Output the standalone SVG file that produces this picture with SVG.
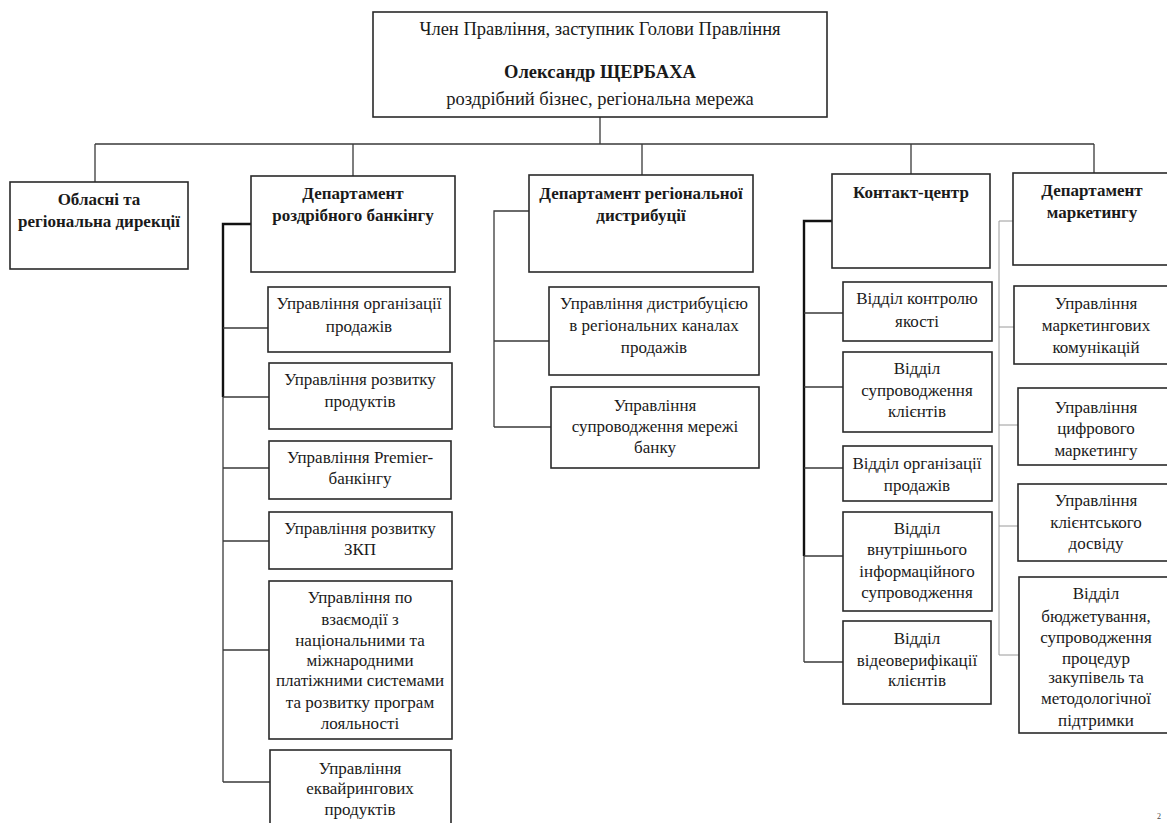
<svg xmlns="http://www.w3.org/2000/svg" width="1167" height="823" viewBox="0 0 1167 823">
  <style>
    .box { fill: #ffffff; stroke: #2a2a2a; stroke-width: 1.6; }
    .t { font-family: "Liberation Serif", "Times New Roman", serif; font-size: 17px; fill: #1a1a1a; text-anchor: middle; }
    .h { font-size: 18.5px; }
    .b { font-weight: bold; }
    .pg { font-size: 8px; fill: #444444; }
    .ln { fill: none; stroke: #3a3a3a; stroke-width: 1.3; }
    .thick { fill: none; stroke: #111111; stroke-width: 2.4; }
    .light { fill: none; stroke: #9a9a9a; stroke-width: 1; }
  </style>
  <rect width="1167" height="823" fill="#ffffff"/>

  <!-- connectors -->
  <g id="connectors">
    <path class="ln" d="M600 117 V144 M95 144 H1094 M95 144 V182 M353 144 V176 M642 144 V175 M911 144 V174 M1094 144 V173"/>
    <!-- retail banking branch -->
    <path class="thick" d="M251 224 H223 V397"/>
    <path class="ln" d="M223 397 V782 M223 328 H268 M223 397 H269 M223 468 H269 M223 541 H269 M223 650 H269 M223 782 H270"/>
    <!-- regional distribution branch -->
    <path class="ln" d="M529 211 H494 V427 M494 341 H549 M494 427 H551"/>
    <!-- contact centre branch -->
    <path class="thick" d="M832 221 H804 V556"/>
    <path class="ln" d="M804 556 V662 M804 313 H843 M804 387 H843 M804 468 H843 M804 556 H843 M804 662 H843"/>
    <!-- marketing branch -->
    <path class="light" d="M1013 221 H999 V655 M999 327 H1014 M999 425 H1018 M999 526 H1018 M999 655 H1019"/>
  </g>

  <g id="head">
    <rect class="box" x="373" y="12" width="454" height="105"/>
    <text class="t h" x="600" y="35">Член Правління, заступник Голови Правління</text>
    <text class="t h b" x="600" y="78">Олександр ЩЕРБАХА</text>
    <text class="t h" x="600" y="105">роздрібний бізнес, регіональна мережа</text>
  </g>

  <g id="regional-directorates">
    <rect class="box" x="10" y="182" width="178" height="87"/>
    <text class="t b" x="99" y="205">Обласні та</text>
    <text class="t b" x="99" y="227">регіональна дирекції</text>
  </g>

  <g id="dept-retail">
    <rect class="box" x="251" y="176" width="204" height="96"/>
    <text class="t b" x="353" y="199">Департамент</text>
    <text class="t b" x="353" y="221">роздрібного банкінгу</text>
  </g>

  <g id="dept-distribution">
    <rect class="box" x="529" y="175" width="224" height="97"/>
    <text class="t b" x="641" y="199">Департамент регіональної</text>
    <text class="t b" x="641" y="221">дистрибуції</text>
  </g>

  <g id="contact-centre">
    <rect class="box" x="832" y="174" width="158" height="94"/>
    <text class="t b" x="911" y="198">Контакт-центр</text>
  </g>

  <g id="dept-marketing">
    <rect class="box" x="1013" y="173" width="170" height="92"/>
    <text class="t b" x="1092" y="196">Департамент</text>
    <text class="t b" x="1092" y="218">маркетингу</text>
  </g>

  <!-- retail banking units -->
  <g id="retail-sales">
    <rect class="box" x="268" y="287" width="182" height="65"/>
    <text class="t" x="359" y="309">Управління організації</text>
    <text class="t" x="359" y="332">продажів</text>
  </g>
  <g id="retail-products">
    <rect class="box" x="269" y="363" width="183" height="66"/>
    <text class="t" x="360" y="385">Управління розвитку</text>
    <text class="t" x="360" y="407">продуктів</text>
  </g>
  <g id="retail-premier">
    <rect class="box" x="269" y="441" width="182" height="58"/>
    <text class="t" x="360" y="463">Управління Premier-</text>
    <text class="t" x="360" y="484">банкінгу</text>
  </g>
  <g id="retail-zkp">
    <rect class="box" x="269" y="512" width="183" height="57"/>
    <text class="t" x="360" y="534">Управління розвитку</text>
    <text class="t" x="360" y="555">ЗКП</text>
  </g>
  <g id="retail-payments">
    <rect class="box" x="269" y="581" width="183" height="158"/>
    <text class="t" x="360" y="603">Управління по</text>
    <text class="t" x="360" y="625">взаємодії з</text>
    <text class="t" x="360" y="646">національними та</text>
    <text class="t" x="360" y="666">міжнародними</text>
    <text class="t" x="360" y="686">платіжними системами</text>
    <text class="t" x="360" y="708">та розвитку програм</text>
    <text class="t" x="360" y="729">лояльності</text>
  </g>
  <g id="retail-acquiring">
    <rect class="box" x="270" y="750" width="181" height="90"/>
    <text class="t" x="360" y="774">Управління</text>
    <text class="t" x="360" y="794">еквайрингових</text>
    <text class="t" x="360" y="815">продуктів</text>
  </g>

  <!-- regional distribution units -->
  <g id="dist-channels">
    <rect class="box" x="549" y="287" width="210" height="88"/>
    <text class="t" x="654" y="309">Управління дистрибуцією</text>
    <text class="t" x="654" y="331">в регіональних каналах</text>
    <text class="t" x="654" y="353">продажів</text>
  </g>
  <g id="dist-network">
    <rect class="box" x="551" y="387" width="208" height="81"/>
    <text class="t" x="655" y="411">Управління</text>
    <text class="t" x="655" y="432">супроводження мережі</text>
    <text class="t" x="655" y="453">банку</text>
  </g>

  <!-- contact centre units -->
  <g id="cc-quality">
    <rect class="box" x="843" y="282" width="149" height="59"/>
    <text class="t" x="917" y="304">Відділ контролю</text>
    <text class="t" x="917" y="327">якості</text>
  </g>
  <g id="cc-clients">
    <rect class="box" x="843" y="352" width="149" height="80"/>
    <text class="t" x="917" y="374">Відділ</text>
    <text class="t" x="917" y="396">супроводження</text>
    <text class="t" x="917" y="417">клієнтів</text>
  </g>
  <g id="cc-sales">
    <rect class="box" x="843" y="446" width="149" height="55"/>
    <text class="t" x="917" y="469">Відділ організації</text>
    <text class="t" x="917" y="491">продажів</text>
  </g>
  <g id="cc-info">
    <rect class="box" x="843" y="512" width="149" height="99"/>
    <text class="t" x="917" y="534">Відділ</text>
    <text class="t" x="917" y="555">внутрішнього</text>
    <text class="t" x="917" y="577">інформаційного</text>
    <text class="t" x="917" y="598">супроводження</text>
  </g>
  <g id="cc-video">
    <rect class="box" x="843" y="621" width="148" height="83"/>
    <text class="t" x="917" y="644">Відділ</text>
    <text class="t" x="917" y="666">відеоверифікації</text>
    <text class="t" x="917" y="686">клієнтів</text>
  </g>

  <!-- marketing units -->
  <g id="mk-comms">
    <rect class="box" x="1014" y="286" width="170" height="78"/>
    <text class="t" x="1096" y="309">Управління</text>
    <text class="t" x="1096" y="331">маркетингових</text>
    <text class="t" x="1096" y="353">комунікацій</text>
  </g>
  <g id="mk-digital">
    <rect class="box" x="1018" y="388" width="166" height="77"/>
    <text class="t" x="1096" y="413">Управління</text>
    <text class="t" x="1096" y="434">цифрового</text>
    <text class="t" x="1096" y="456">маркетингу</text>
  </g>
  <g id="mk-cx">
    <rect class="box" x="1018" y="484" width="166" height="77"/>
    <text class="t" x="1096" y="506">Управління</text>
    <text class="t" x="1096" y="528">клієнтського</text>
    <text class="t" x="1096" y="549">досвіду</text>
  </g>
  <g id="mk-budget">
    <rect class="box" x="1019" y="577" width="165" height="156"/>
    <text class="t" x="1096" y="599">Відділ</text>
    <text class="t" x="1096" y="622">бюджетування,</text>
    <text class="t" x="1096" y="643">супроводження</text>
    <text class="t" x="1096" y="664">процедур</text>
    <text class="t" x="1096" y="683">закупівель та</text>
    <text class="t" x="1096" y="704">методологічної</text>
    <text class="t" x="1096" y="726">підтримки</text>
  </g>

  <!-- page number at the sheet edge -->
  <text class="t pg" x="1159" y="819">2</text>
</svg>
